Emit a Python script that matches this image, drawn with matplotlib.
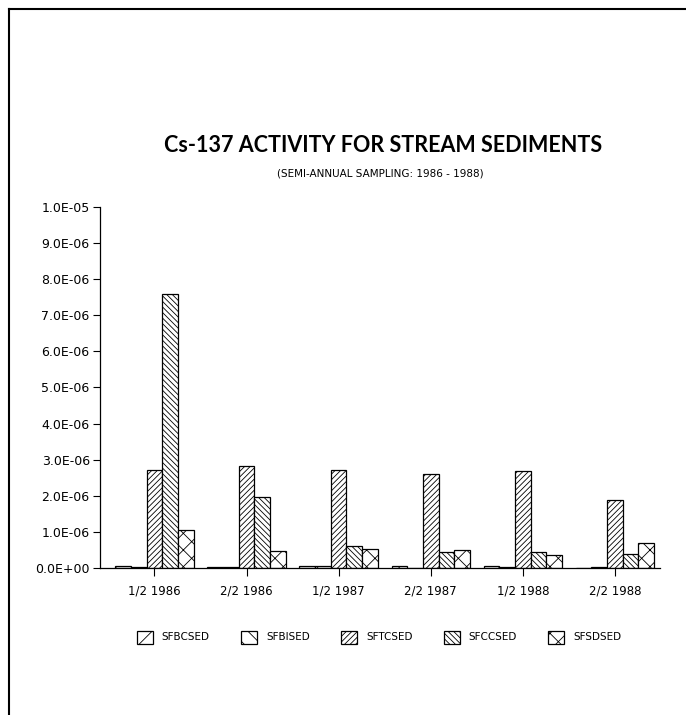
import matplotlib
matplotlib.use("Agg")
import matplotlib.pyplot as plt
from matplotlib.lines import Line2D
from matplotlib.ticker import FuncFormatter
import numpy as np

# data (activity values)
periods = ["1/2 1986", "2/2 1986", "1/2 1987", "2/2 1987", "1/2 1988", "2/2 1988"]
stations = ["SFBCSED", "SFBISED", "SFTCSED", "SFCCSED", "SFSDSED"]
sfbcsed = [0.05e-6, 0.02e-6, 0.05e-6, 0.05e-6, 0.05e-6, 0.01e-6]
sfbised = [0.04e-6, 0.02e-6, 0.05e-6, 0.01e-6, 0.03e-6, 0.03e-6]
sftcsed = [2.71e-6, 2.82e-6, 2.71e-6, 2.59e-6, 2.68e-6, 1.88e-6]
sfccsed = [7.59e-6, 1.96e-6, 0.62e-6, 0.45e-6, 0.45e-6, 0.40e-6]
sfsdsed = [1.05e-6, 0.48e-6, 0.52e-6, 0.50e-6, 0.35e-6, 0.68e-6]
hatches = ["//", "\\\\", "//////", "\\" * 6, "xx"]

plt.rcParams["hatch.linewidth"] = 0.6
plt.rcParams["font.family"] = ["DejaVu Sans"]

fig = plt.figure(figsize=(6.86, 7.15), dpi=100)
ax = fig.add_axes([0.146, 0.2056, 0.816, 0.5049])

x = np.arange(len(periods))
w = 0.17
series = [sfbcsed, sfbised, sftcsed, sfccsed, sfsdsed]
for i, (name, vals) in enumerate(zip(stations, series)):
    ax.bar(x + (i - 2) * w, vals, w, color="white", edgecolor="black",
           linewidth=0.9, hatch=hatches[i], label=name)

ax.set_xlim(-0.59, 5.49)
ax.set_ylim(0, 1e-5)
ax.set_yticks(np.arange(0, 1.01e-5, 1e-6))
ax.yaxis.set_major_formatter(FuncFormatter(lambda v, p: f"{v:.1E}"))
ax.set_xticks(x)
ax.set_xticklabels(periods)
ax.tick_params(axis="y", direction="out", length=5, width=0.8, labelsize=9, pad=2.5)
ax.tick_params(axis="x", direction="out", length=6, width=0.8, labelsize=8.5, pad=6)
for s in ["top", "right"]:
    ax.spines[s].set_visible(False)
for s in ["left", "bottom"]:
    ax.spines[s].set_linewidth(0.9)

fig.text(0.558, 0.797, "Cs-137 ACTIVITY FOR STREAM SEDIMENTS", ha="center", va="center",
         fontsize=15.5, fontweight="bold", family=["Lato", "DejaVu Sans"])
fig.text(0.555, 0.758, "(SEMI-ANNUAL SAMPLING: 1986 - 1988)", ha="center", va="center",
         fontsize=7.5)

fig.legend(loc="center", bbox_to_anchor=(0.5525, 0.109), ncol=5, frameon=False,
           fontsize=7.5, handlelength=1.54, handleheight=1.54, handletextpad=0.86,
           columnspacing=3.0)

# page border (left and top edges)
fig.add_artist(Line2D([0.013, 0.013], [0.0, 0.988], color="black", linewidth=1.5))
fig.add_artist(Line2D([0.013, 1.0], [0.988, 0.988], color="black", linewidth=1.5))

fig.savefig("out.png", dpi=100)
